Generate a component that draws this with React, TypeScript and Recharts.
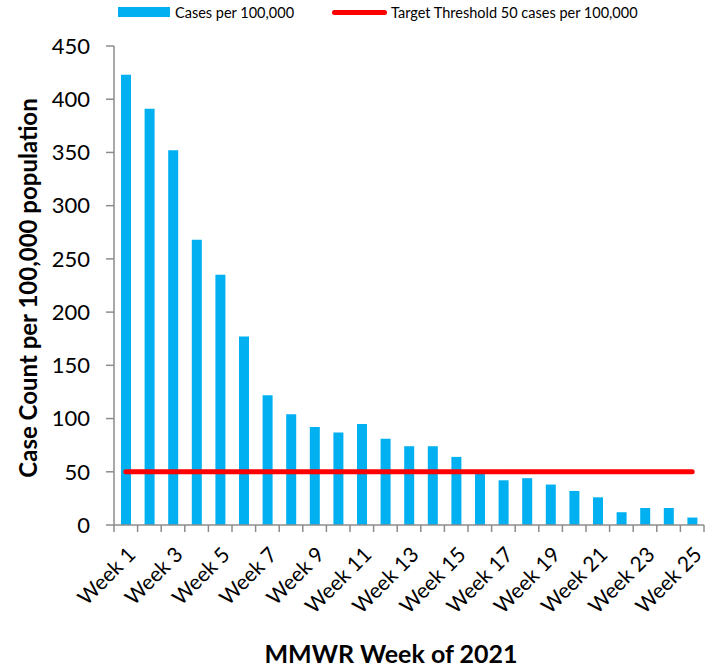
import React from 'react';
import {
    ComposedChart,
    Bar,
    Line,
    XAxis,
    YAxis,
    Label,
} from 'recharts';

const weeks = [
    'Week 1', 'Week 2', 'Week 3', 'Week 4', 'Week 5', 'Week 6', 'Week 7',
    'Week 8', 'Week 9', 'Week 10', 'Week 11', 'Week 12', 'Week 13', 'Week 14',
    'Week 15', 'Week 16', 'Week 17', 'Week 18', 'Week 19', 'Week 20',
    'Week 21', 'Week 22', 'Week 23', 'Week 24', 'Week 25',
];

const casesPer100k = [
    423, 391, 352, 268, 235, 177, 122, 104, 92, 87, 95, 81, 74,
    74, 64, 49, 42, 44, 38, 32, 26, 12, 16, 16, 7,
];

const threshold = 50;

const yTicks = [0, 50, 100, 150, 200, 250, 300, 350, 400, 450];

const data = weeks.map((week, i) => ({
    week,
    cases: casesPer100k[i],
    target: threshold,
}));

const FONT = 'Lato, "Open Sans", sans-serif';
const BLUE = '#00B0F0';
const RED = '#FF0000';
const AXIS = '#8c8c8c';
const BAND = 590 / weeks.length;

const WeekTick = (props: any) => {
    const { x, y, payload, index } = props;
    const ax = x + 11;
    const ay = y + 31;
    return (
        <g>
            <line x1={x - BAND / 2} y1={y} x2={x - BAND / 2} y2={y + 7} stroke={AXIS} strokeWidth={1.5} />
            {index === weeks.length - 1 && (
                <line x1={x + BAND / 2} y1={y} x2={x + BAND / 2} y2={y + 7} stroke={AXIS} strokeWidth={1.5} />
            )}
            {index % 2 === 0 && (
                <text
                    x={ax}
                    y={ay}
                    textAnchor="end"
                    fontSize={21}
                    fontFamily={FONT}
                    fill="#000"
                    transform={`rotate(-45, ${ax}, ${ay})`}
                >
                    {payload.value}
                </text>
            )}
        </g>
    );
};

const App = () => {
    return (
        <div style={{ position: 'absolute', left: 0, top: 0, width: 706, height: 668, fontFamily: FONT }}>
            <div style={{ position: 'absolute', top: 3, left: 118, height: 18, display: 'flex', alignItems: 'center', fontSize: 14.5, color: '#000' }}>
                <span style={{ display: 'inline-block', width: 52, height: 10, background: BLUE, marginRight: 5 }} />
                <span>Cases per 100,000</span>
                <span style={{ display: 'inline-block', width: 55, height: 5, borderRadius: 3, background: RED, marginLeft: 38, marginRight: 4 }} />
                <span>Target Threshold 50 cases per 100,000</span>
            </div>
            <ComposedChart
                width={706}
                height={668}
                data={data}
                margin={{ top: 46, right: 2, bottom: 0, left: 0 }}
            >
                <XAxis
                    dataKey="week"
                    interval={0}
                    tickSize={0}
                    tickMargin={0}
                    tickLine={false}
                    tick={<WeekTick />}
                    height={143}
                    stroke={AXIS}
                    strokeWidth={1.5}
                >
                    <Label
                        content={() => (
                            <text
                                x={391}
                                y={663}
                                textAnchor="middle"
                                fontSize={25}
                                fontWeight="bold"
                                fontFamily={FONT}
                                fill="#000"
                            >
                                MMWR Week of 2021
                            </text>
                        )}
                    />
                </XAxis>
                <YAxis
                    width={114}
                    domain={[0, 450]}
                    ticks={yTicks}
                    interval={0}
                    tickSize={8}
                    tickMargin={16}
                    stroke={AXIS}
                    strokeWidth={1.5}
                    tick={{ fill: '#000', fontSize: 22, fontFamily: FONT }}
                >
                    <Label
                        content={() => (
                            <text
                                x={37}
                                y={288}
                                textAnchor="middle"
                                fontSize={24}
                                fontWeight="bold"
                                fontFamily={FONT}
                                fill="#000"
                                transform="rotate(-90, 37, 288)"
                            >
                                Case Count per 100,000 population
                            </text>
                        )}
                    />
                </YAxis>
                <Bar dataKey="cases" fill={BLUE} barSize={10} isAnimationActive={false} />
                <Line
                    dataKey="target"
                    stroke={RED}
                    strokeWidth={5}
                    strokeLinecap="round"
                    dot={false}
                    activeDot={false}
                    type="linear"
                    isAnimationActive={false}
                />
            </ComposedChart>
        </div>
    );
};

export default App;
